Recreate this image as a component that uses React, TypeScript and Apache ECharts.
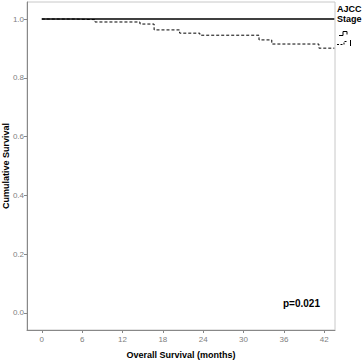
import React, { useEffect, useRef } from "react";
import * as echarts from "echarts";

const xTicks = [0, 6, 12, 18, 24, 30, 36, 42];
const yTicks = [0, 0.2, 0.4, 0.6, 0.8, 1.0];
const stageI: [number, number][] = [
  [0, 1.0],
  [43.5, 1.0],
];
const stageII: [number, number][] = [
  [0, 1.0],
  [4.9, 0.998],
  [7.9, 0.99],
  [14.6, 0.983],
  [16.7, 0.963],
  [20.5, 0.952],
  [23.5, 0.945],
  [32.3, 0.929],
  [34.2, 0.915],
  [41.2, 0.901],
  [43.5, 0.901],
];
const legendTitle = ["AJCC", "Stage"];
const yTitle = "Cumulative Survival";
const pText = "p=0.021";

const FONT = "'Liberation Sans', Arial, sans-serif";

export default function App() {
  const ref = useRef<HTMLDivElement>(null);
  useEffect(() => {
    if (!ref.current) return;
    const chart = echarts.init(ref.current, undefined, { renderer: "svg" });
    chart.setOption({
      animation: false,
      backgroundColor: "#fff",
      textStyle: { fontFamily: FONT },
      grid: {
        left: 27,
        top: 2,
        right: 29,
        bottom: 30,
        show: true,
        borderColor: "#c8c8c8",
        borderWidth: 1,
        containLabel: false,
        outerBoundsMode: "none",
      },
      xAxis: {
        type: "value",
        min: -2.2,
        max: 43.6,
        name: "Overall Survival (months)",
        nameLocation: "middle",
        nameGap: 20,
        nameTextStyle: { fontFamily: FONT, fontWeight: "bold", fontSize: 9, color: "#000" },
        axisLine: { show: true, onZero: false, lineStyle: { color: "#888", width: 1 } },
        axisTick: { show: true, length: 3, lineStyle: { color: "#888" }, customValues: xTicks },
        axisLabel: {
          color: "#808080",
          fontSize: 8,
          margin: 5,
          customValues: xTicks,
          formatter: (v: number) => String(v),
        },
        splitLine: { show: false },
      },
      yAxis: {
        type: "value",
        min: -0.058,
        max: 1.058,
        axisLine: { show: true, onZero: false, lineStyle: { color: "#888", width: 1 } },
        axisTick: { show: true, length: 3, lineStyle: { color: "#888" }, customValues: yTicks },
        axisLabel: {
          color: "#808080",
          fontSize: 8,
          margin: 3,
          customValues: yTicks,
          formatter: (v: number) => v.toFixed(1),
        },
        splitLine: { show: false },
      },
      series: [
        {
          name: "I",
          type: "line",
          step: "end",
          data: stageI,
          showSymbol: false,
          lineStyle: { color: "#000", width: 1.5 },
        },
        {
          name: "II",
          type: "line",
          step: "end",
          data: stageII,
          showSymbol: false,
          lineStyle: { color: "#000", width: 1, type: [3, 2] },
        },
      ],
      graphic: [
        {
          type: "text",
          x: 6,
          y: 166,
          rotation: Math.PI / 2,
          style: {
            text: yTitle,
            font: `bold 9px ${FONT}`,
            fill: "#000",
            align: "center",
            verticalAlign: "middle",
          },
        },
        {
          type: "text",
          left: 337,
          top: 4,
          style: {
            text: legendTitle.join("\n"),
            font: `bold 9px ${FONT}`,
            fill: "#000",
            lineHeight: 10,
          },
        },
        {
          type: "polyline",
          shape: { points: [[339, 35.5], [343, 35.5], [343, 31.5], [347, 31.5], [347, 34.5]] },
          style: { stroke: "#000", lineWidth: 1, fill: null },
        },
        {
          type: "polyline",
          shape: { points: [[337, 44.5], [344, 44.5], [344, 41.5], [348, 41.5]] },
          style: { stroke: "#000", lineWidth: 1, fill: null, lineDash: [2, 1.5] },
        },
        {
          type: "line",
          shape: { x1: 350.5, y1: 40, x2: 350.5, y2: 46 },
          style: { stroke: "#000", lineWidth: 1 },
        },
        {
          type: "text",
          left: 283,
          top: 298,
          style: { text: pText, font: `bold 10px ${FONT}`, fill: "#000" },
        },
      ],
    });
    return () => chart.dispose();
  }, []);
  return (
    <div
      ref={ref}
      style={{ position: "fixed", left: 0, top: 0, width: 364, height: 360 }}
    />
  );
}
